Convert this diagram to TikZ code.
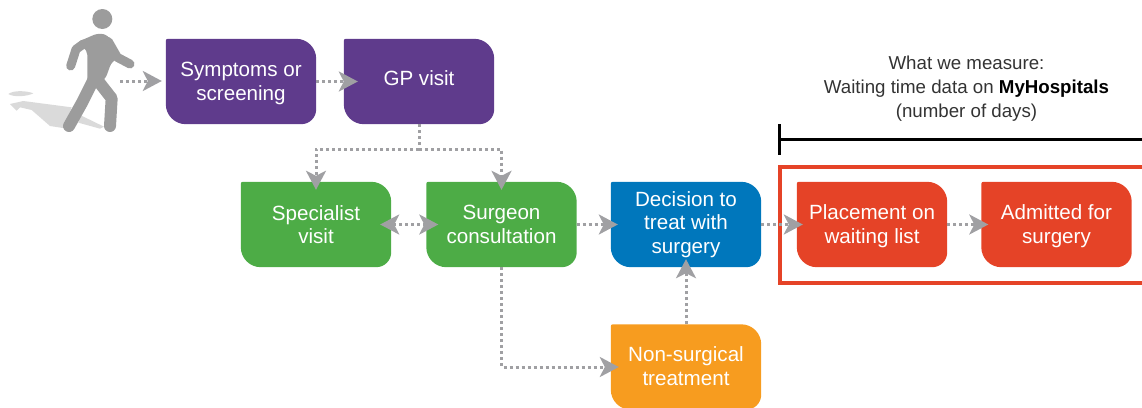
\documentclass[tikz,border=0pt]{standalone}
\usepackage{fontspec}
\setmainfont{Liberation Sans}
\usetikzlibrary{arrows.meta,backgrounds}
\definecolor{purp}{HTML}{5F3B8C}
\definecolor{gren}{HTML}{4DAC46}
\definecolor{blu}{HTML}{0077BC}
\definecolor{orng}{HTML}{F79C1F}
\definecolor{redd}{HTML}{E54327}
\definecolor{arrg}{HTML}{A0A0A3}
\definecolor{pers}{HTML}{9C9C9C}
\definecolor{shad}{HTML}{DADADA}
\definecolor{txtg}{HTML}{333333}
\tikzset{
  boxt/.style={inner sep=0pt,minimum width=150pt,minimum height=85pt,align=center,text=white,
    font=\fontsize{20.6}{23.6}\selectfont},
  conn/.style={draw=arrg,line width=3pt,dash pattern=on 3pt off 3pt,
    -{Stealth[length=19pt,width=20pt,inset=5pt,fill=arrg,sep=0pt]}},
  plainconn/.style={draw=arrg,line width=3pt,dash pattern=on 3pt off 3pt},
  conb/.style={conn,{Stealth[length=19pt,width=20pt,inset=5pt,fill=arrg]}-{Stealth[length=19pt,width=20pt,inset=5pt,fill=arrg]}},
  limb/.style={draw=pers,line width=12pt,line cap=round,line join=round},
  arm/.style={draw=pers,line width=9pt,line cap=round,line join=round},
}
\newcommand{\lowerit}[1]{\rule{0pt}{#1}}
\newcommand{\raiseit}[1]{\rule[-#1]{0pt}{#1}}
\newcommand{\tile}[5]{%
  \node[boxt] (#1) at (#2,#3) {#5};
  \begin{pgfonlayer}{background}
    \fill[#4] (#1.west) {[rounded corners=2pt] -- (#1.north west)} -- (#1.north)
      {[rounded corners=20pt] -- (#1.north east)} -- (#1.east)
      {[rounded corners=15pt] -- (#1.south east)} -- (#1.south)
      {[rounded corners=20pt] -- (#1.south west)} -- cycle;
  \end{pgfonlayer}}
\begin{document}
\begin{tikzpicture}[x=1pt,y=-1pt]
\useasboundingbox (0,0) rectangle (1142,407);
% walker
\begin{scope}[scale=1/3]
  \fill[shad] (25,282) .. controls (40,270) and (80,272) .. (100,280) .. controls (80,290) and (40,292) .. (25,282) -- cycle;
  \fill[shad] (30,312) -- (70,303) -- (215,322) -- (195,385) -- (150,378) -- (95,330) -- (60,322) -- (50,332) -- cycle;
  \fill[shad] (240,345) -- (312,380) -- (300,386) -- (235,368) -- cycle;
  \fill[pers] (307,57) circle (30);
  \fill[pers,rounded corners=5pt] (228,128) -- (295,99) -- (325,106) -- (362,170) -- (335,185) -- (315,240) -- (262,255) -- (262,150) -- cycle;
  \draw[arm] (250,132) -- (228,148) -- (212,198);
  \draw[arm] (325,125) -- (352,172) -- (390,192);
  \draw[limb] (280,240) -- (245,310) -- (207,378);
  \draw[limb] (292,240) -- (335,295) -- (330,378);
\end{scope}
\coordinate (walker) at (120,81);
% frame and bracket
\draw[redd,line width=3.6pt,line join=miter] (1143,167) -- (780,167) -- (780,283) -- (1143,283);
\coordinate (brT) at (779,124);
\coordinate (brB) at (779,155);
\coordinate (brM) at (779,139);
\coordinate (brE) at (1143,139);
\draw[black,line width=3pt] (brT) -- (brB);
\draw[black,line width=3pt] (brM) -- (brE);
\node[align=center,text=txtg,font=\fontsize{18.7}{24}\selectfont] (hdr) at (966.5,89)
  {What we measure:\\Waiting time data on \textcolor{black}{\textbf{MyHospitals}}\\(number of days)};
% boxes
\tile{symp}{241}{81.5}{purp}{\lowerit{18.5pt}Symptoms or\\screening}
\tile{gp}{419}{81.5}{purp}{GP visit\raiseit{6pt}}
\tile{spec}{316}{224.5}{gren}{Specialist\\visit}
\tile{surg}{501.5}{224.5}{gren}{Surgeon\\consultation}
\tile{deci}{686}{224.5}{blu}{Decision to\\treat with\\surgery}
\tile{nons}{686}{367}{orng}{Non-surgical\\treatment\raiseit{2pt}}
\tile{plac}{872}{224.5}{redd}{\lowerit{18.5pt}Placement on\\waiting list}
\tile{admi}{1056.5}{224.5}{redd}{\lowerit{18.5pt}Admitted for\\surgery}
% connectors
\coordinate (split) at (419,149);
\draw[conn,shorten >=4pt] (walker) -- (symp.west |- walker);
\draw[conn,shorten >=-14pt] (symp.east) -- (gp.west);
\draw[plainconn] (gp.south) -- (split);
\draw[conn,shorten >=-8pt] (split) -| (spec.north);
\draw[conn,shorten >=-8pt] (split) -| (surg.north);
\draw[conb,shorten >=-12pt,shorten <=-11pt] (spec.east) -- (surg.west);
\draw[conn,shorten >=-7pt] (surg.east) -- (deci.west);
\draw[conn,shorten >=-6pt] (deci.east) -- (plac.west);
\draw[conn,shorten >=-7pt] (plac.east) -- (admi.west);
\draw[conn,shorten >=-8pt] (nons.north) -- (deci.south);
\draw[conn,shorten >=-8pt] (surg.south) |- (nons.west);
\end{tikzpicture}
\end{document}
